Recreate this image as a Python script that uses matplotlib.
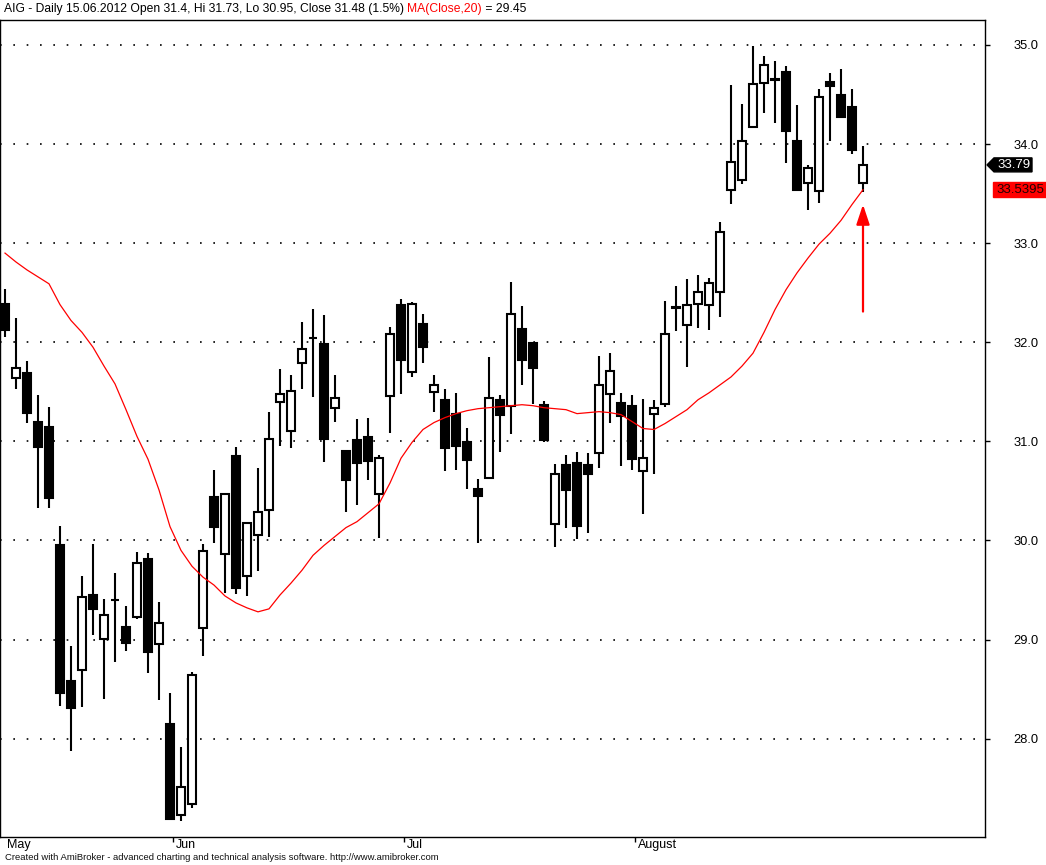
import numpy as np
import matplotlib
matplotlib.use("Agg")
import matplotlib.pyplot as plt
from matplotlib.patches import Polygon
from matplotlib.transforms import IdentityTransform

plt.rcParams["font.family"] = ["Liberation Sans", "DejaVu Sans"]

# AIG daily bars, May - August 2012
opens = [32.39, 31.64, 31.69, 31.20, 31.15, 29.95, 28.58, 28.69, 29.45, 29.01,
         29.40, 29.13, 29.23, 29.81, 28.96, 28.15, 27.23, 27.34, 29.12, 30.44,
         29.86, 30.85, 29.64, 30.06, 30.31, 31.40, 31.10, 31.79, 32.04, 31.98,
         31.34, 30.90, 31.01, 31.04, 30.47, 31.46, 32.38, 31.70, 32.18, 31.50,
         31.42, 31.28, 30.99, 30.52, 30.63, 31.42, 31.36, 32.13, 31.99, 31.37,
         30.17, 30.76, 30.78, 30.76, 30.88, 31.48, 31.39, 31.36, 30.70, 31.28,
         31.38, 32.35, 32.17, 32.39, 32.38, 32.51, 33.54, 33.64, 34.17, 34.62,
         34.66, 34.73, 34.03, 33.61, 33.53, 34.63, 34.50, 34.37, 33.61]
highs = [32.54, 32.25, 31.81, 31.47, 31.35, 30.15, 28.94, 29.64, 29.96, 29.41,
         29.67, 29.34, 29.88, 29.87, 29.38, 28.46, 27.92, 28.67, 29.96, 30.71,
         30.47, 30.94, 30.18, 30.73, 31.30, 31.73, 31.67, 32.20, 32.34, 32.28,
         31.67, 30.90, 31.23, 31.24, 30.86, 32.15, 32.44, 32.41, 32.29, 31.67,
         31.53, 31.49, 31.14, 30.62, 31.85, 31.47, 32.61, 32.37, 31.99, 31.41,
         30.77, 30.86, 30.89, 30.88, 31.86, 31.89, 31.49, 31.47, 31.43, 31.42,
         32.42, 32.57, 32.64, 32.68, 32.65, 33.21, 34.60, 34.40, 34.99, 34.89,
         34.84, 34.79, 34.39, 33.79, 34.56, 34.72, 34.76, 34.56, 33.98]
lows = [32.05, 31.53, 31.19, 30.33, 30.33, 28.33, 27.88, 28.32, 29.05, 28.40,
        28.77, 28.88, 29.21, 28.66, 28.39, 27.18, 27.17, 27.30, 28.83, 29.97,
        29.47, 29.46, 29.44, 29.69, 30.04, 30.95, 30.93, 31.53, 31.45, 30.79,
        31.20, 30.29, 30.36, 30.61, 30.03, 31.08, 31.48, 31.65, 31.79, 31.30,
        30.70, 30.71, 30.52, 29.97, 30.62, 30.89, 31.07, 31.57, 31.38, 30.99,
        29.93, 30.13, 30.02, 30.08, 30.73, 31.19, 30.75, 30.71, 30.27, 30.67,
        31.35, 32.11, 31.75, 32.14, 32.12, 32.26, 33.40, 33.60, 34.17, 34.31,
        34.21, 33.81, 33.54, 33.33, 33.41, 34.03, 34.27, 33.90, 33.52]
closes = [32.12, 31.74, 31.29, 30.94, 30.43, 28.46, 28.31, 29.43, 29.31, 29.25,
          29.40, 28.97, 29.77, 28.87, 29.17, 27.19, 27.51, 28.64, 29.89, 30.14,
          30.47, 29.52, 30.18, 30.29, 31.02, 31.48, 31.51, 31.93, 32.04, 31.02,
          31.44, 30.61, 30.78, 30.80, 30.83, 32.08, 31.82, 32.39, 31.95, 31.57,
          30.93, 30.95, 30.81, 30.45, 31.44, 31.27, 32.29, 31.82, 31.74, 31.01,
          30.67, 30.51, 30.15, 30.67, 31.57, 31.71, 31.26, 30.82, 30.83, 31.34,
          32.08, 32.35, 32.38, 32.51, 32.60, 33.11, 33.82, 34.03, 34.61, 34.80,
          34.65, 34.13, 33.54, 33.76, 34.48, 34.59, 34.27, 33.94, 33.79]
ma20 = [32.90, 32.81, 32.73, 32.66, 32.59, 32.38, 32.22, 32.10, 31.95, 31.76,
        31.58, 31.32, 31.05, 30.82, 30.51, 30.14, 29.90, 29.74, 29.63, 29.55,
        29.44, 29.37, 29.32, 29.28, 29.31, 29.45, 29.57, 29.70, 29.85, 29.95,
        30.04, 30.13, 30.19, 30.28, 30.37, 30.58, 30.83, 30.99, 31.12, 31.19,
        31.24, 31.28, 31.31, 31.33, 31.34, 31.35, 31.36, 31.37, 31.36, 31.34,
        31.33, 31.32, 31.28, 31.29, 31.30, 31.29, 31.27, 31.20, 31.13, 31.12,
        31.18, 31.25, 31.32, 31.42, 31.49, 31.57, 31.65, 31.76, 31.89, 32.10,
        32.33, 32.53, 32.70, 32.85, 32.99, 33.10, 33.23, 33.39, 33.5395]

month_names = ["Jun", "Jul", "August"]
month_first_bar = [15, 36, 57]
price_ticks = [28, 29, 30, 31, 32, 33, 34, 35]
arrow_from, arrow_to = 32.31, 33.39

W, H = 1046, 865
fig = plt.figure(figsize=(W / 100, H / 100), dpi=100)
ax = fig.add_axes([0, 1 - 837 / H, 985 / W, 817 / H])

x = np.arange(len(closes))
o = np.array(opens)
c = np.array(closes)

ax.vlines(x, lows, highs, color="black", lw=1.5, zorder=2)
up = c >= o
body = np.maximum(np.abs(c - o), 0.004)
ax.bar(x[up], body[up], bottom=np.minimum(o, c)[up], width=0.64,
       facecolor="white", edgecolor="black", lw=1.5, zorder=3)
ax.bar(x[~up], body[~up], bottom=np.minimum(o, c)[~up], width=0.64,
       facecolor="black", edgecolor="black", lw=1.5, zorder=3)

ax.plot(x, ma20, color="#ff0000", lw=0.9, zorder=4)

ax.annotate("", xy=(x[-1], arrow_to), xytext=(x[-1], arrow_from),
            arrowprops=dict(arrowstyle="-|>,head_length=0.6,head_width=0.2",
                            mutation_scale=20, color="#ff0000", lw=1.6,
                            shrinkA=0, shrinkB=0), zorder=5)

ax.set_xlim(-5 / 11, 980 / 11)
ax.set_ylim(27.008, 35.252)

ax.yaxis.tick_right()
ax.set_yticks(price_ticks)
ax.set_yticklabels([f"{v:.1f}" for v in price_ticks])
ax.tick_params(axis="y", direction="out", length=3.6, width=1, pad=17,
               labelsize=9.3, colors="black")
ax.set_xticks(np.array(month_first_bar) + 0.3)
ax.set_xticklabels([])
ax.tick_params(axis="x", direction="out", length=3.6, width=1)
ax.grid(axis="y", color="black", lw=1.2, linestyle=(0, (1, 7)), zorder=0)
ax.set_axisbelow(True)
for s in ax.spines.values():
    s.set_color("black")
    s.set_linewidth(1.0)

# month labels under the axis
ax.annotate("May", xy=(0, 0), xycoords="axes fraction", xytext=(5, -1.5),
            textcoords="offset points", ha="left", va="top", fontsize=9)
for name, i in zip(month_names, month_first_bar):
    ax.annotate(name, xy=(i + 0.3, 27.008), xytext=(2, -1.5),
                textcoords="offset points", ha="left", va="top", fontsize=9)

# price tags on the right
fig.canvas.draw()
yc = ax.transData.transform((0, closes[-1]))[1]
ym = ax.transData.transform((0, ma20[-1]))[1]
tag = Polygon([[987, yc], [994, yc + 7], [1032, yc + 7], [1032, yc - 7],
               [994, yc - 7]], closed=True, fc="black", ec="black",
              transform=IdentityTransform())
fig.patches.append(tag)
fig.text(997 / W, yc / H, f"{closes[-1]:.2f}", color="white", fontsize=9.5,
         ha="left", va="center")
red = Polygon([[993, ym + 7.5], [1046, ym + 7.5], [1046, ym - 7.5],
               [993, ym - 7.5]], closed=True, fc="#ff0000", ec="#ff0000",
              transform=IdentityTransform())
fig.patches.append(red)
fig.text(996 / W, ym / H, f"{ma20[-1]:.4f}", color="#200000", fontsize=9.5,
         ha="left", va="center")

# title line
r = fig.canvas.get_renderer()
t1 = fig.text(4 / W, 1 - 9 / H,
              "AIG - Daily 15.06.2012 Open 31.4, Hi 31.73, Lo 30.95, "
              "Close 31.48 (1.5%) ", fontsize=8.7, va="center", ha="left")
x1 = t1.get_window_extent(r).x1
t2 = fig.text(x1 / W, 1 - 9 / H, "MA(Close,20)", color="#ff0000",
              fontsize=8.7, va="center", ha="left")
x2 = t2.get_window_extent(r).x1
fig.text(x2 / W, 1 - 9 / H, f" = {ma20[25]:.2f}", fontsize=8.7,
         va="center", ha="left")

fig.text(5 / W, 1 - 858 / H,
         "Created with AmiBroker - advanced charting and technical analysis "
         "software. http://www.amibroker.com", fontsize=6.8, va="center",
         ha="left", color="#101010")

fig.savefig("out.png", dpi=100)
